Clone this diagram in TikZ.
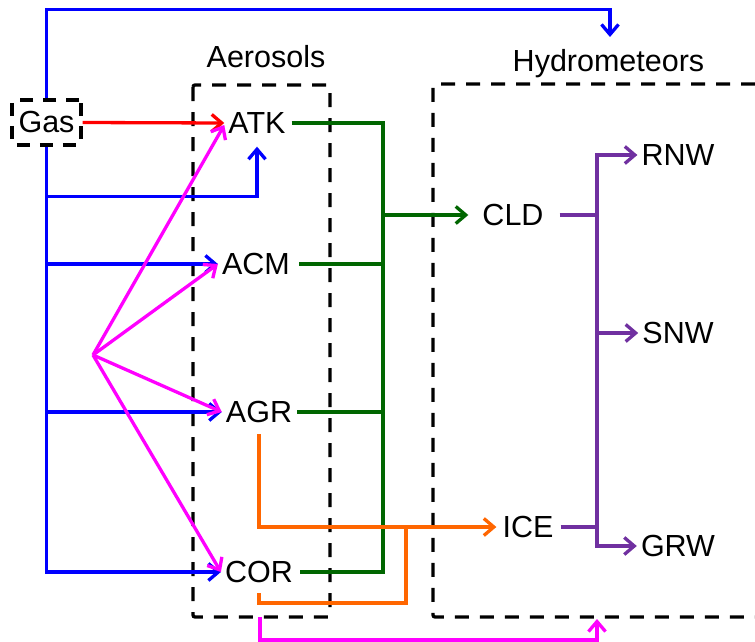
\documentclass[tikz,border=0pt]{standalone}
\usepackage{fontspec}
\setmainfont{Liberation Sans}
\usetikzlibrary{arrows.meta}
\definecolor{cBlue}{HTML}{0000FF}
\definecolor{cRed}{HTML}{FF0000}
\definecolor{cGreen}{HTML}{006600}
\definecolor{cMag}{HTML}{FF00FF}
\definecolor{cOr}{HTML}{FF6600}
\definecolor{cPu}{HTML}{7030A0}
\begin{document}
\begin{tikzpicture}[x=1pt,y=-1pt,
  every node/.style={font=\fontsize{30.5}{36}\selectfont},
  lbl/.style={inner sep=4pt},
  gasbox/.style={draw=black,line width=3.3pt,dash pattern=on 13pt off 10pt,rounded corners=2pt,minimum width=69pt,minimum height=45pt,inner sep=0pt},
  grpbox/.style={draw=black,line width=3.3pt,dash pattern=on 14pt off 11pt,rounded corners=2pt},
  conn/.style={line width=3.3pt},
  barb/.tip={Straight Barb[length=10pt,width=17pt]},
  tip/.style={-barb},
  bl/.style={conn,draw=cBlue},
  rd/.style={conn,draw=cRed},
  gr/.style={conn,draw=cGreen},
  mg/.style={conn,draw=cMag},
  orr/.style={conn,draw=cOr},
  pu/.style={conn,draw=cPu}
]
\useasboundingbox (0,0) rectangle (755,642);
\fill[white] (0,0) rectangle (755,642);

% group boxes
\draw[grpbox] (193,85) rectangle (330,617);
\draw[grpbox] (755,84) -- (433,84) -- (433,617) -- (755,617);
\node[anchor=base] (aerolbl) at (266,68) {Aerosols};
\node[anchor=base] (hydrolbl) at (608.5,72) {Hydrometeors};

% nodes
\node[gasbox] (gas) at (46.5,122.5) {Gas};
\node[lbl] (atk) at (257,123) {ATK};
\node[lbl] (acm) at (256,264) {ACM};
\node[lbl] (agr) at (259,412) {AGR};
\node[lbl] (cor) at (259,572) {COR};
\node[lbl] (cld) at (513,215) {CLD};
\node[lbl] (ice) at (528,527) {ICE};
\node[lbl] (rnw) at (678,155) {RNW};
\node[lbl] (snw) at (678,333) {SNW};
\node[lbl] (grw) at (678,546) {GRW};

\coordinate (hytop) at (610,37);
\coordinate (src) at (93,355);
\coordinate (gbus) at (383,572);
\coordinate (oj) at (406,527);
\coordinate (pbus) at (597,546);
\coordinate (mstart) at (260,617);
\coordinate (mend) at (597,619);

% blue
\draw[bl,tip] (gas.north) -- ++(0,-89) -| (hytop);
\draw[bl,tip] (gas.south) |- (cor.west);
\draw[bl,tip] (gas.south |- acm.west) -- (acm.west);
\draw[bl,tip] (gas.south |- agr.west) -- (agr.west);
\draw[bl,tip] ([yshift=-50pt]gas.south) -| ([yshift=-9pt]atk.south);

% red
\draw[rd,tip] (gas.east) -- (atk.west);

% magenta
\draw[mg,tip] (src) -- ([yshift=-2pt]atk.west);
\draw[mg,tip] (src) -- (acm.west);
\draw[mg,tip] (src) -- (agr.west);
\draw[mg,tip] (src) -- (cor.west);
\draw[mg,tip] (mstart) -- ++(0,23) -| (mend);

% green
\draw[gr] ([xshift=2pt]atk.east) -| (gbus) -- ([xshift=3pt]cor.east);
\draw[gr] ([xshift=5pt]acm.east) -- (acm.east -| gbus);
\draw[gr] ([xshift=1pt]agr.east) -- (agr.east -| gbus);
\draw[gr,tip] (gbus |- cld.west) -- ([xshift=-10pt]cld.west);

% orange
\draw[orr,tip] ([yshift=-7pt]agr.south) |- ([xshift=-2pt]ice.west);
\draw[orr] ([yshift=-6pt]cor.south) -- ++(0,10) -| (oj);

% purple
\draw[pu] ([xshift=12pt]cld.east) -- (cld.east -| pbus);
\draw[pu] ([xshift=3pt]ice.east) -- (ice.east -| pbus);
\draw[pu,barb-barb] (rnw.west) -| (pbus) -- (grw.west);
\draw[pu,tip] (pbus |- snw.west) -- (snw.west);
\end{tikzpicture}
\end{document}
